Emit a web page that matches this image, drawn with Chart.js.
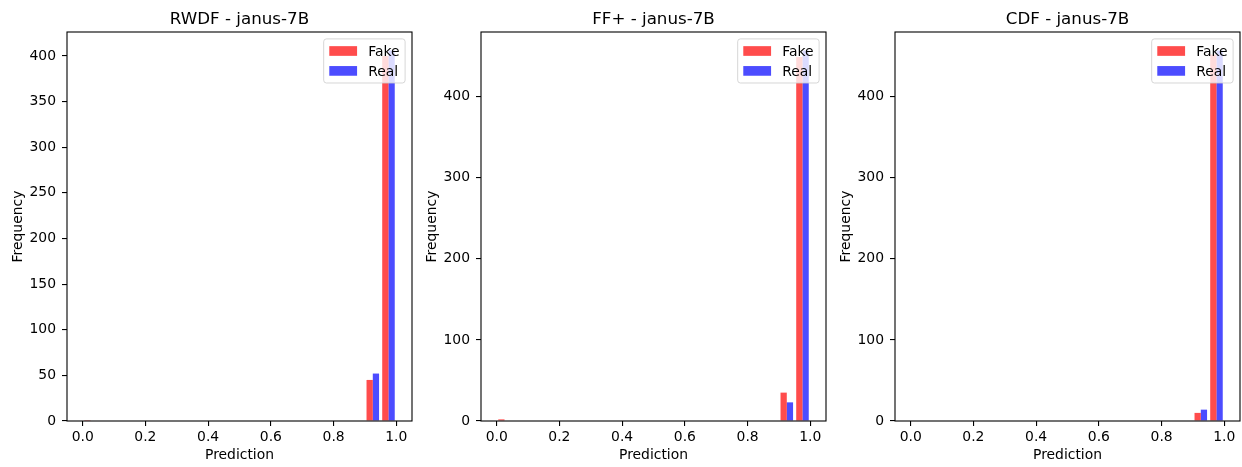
<!DOCTYPE html>
<html>
<head>
<meta charset="utf-8">
<script src="https://cdn.jsdelivr.net/npm/chart.js@4"></script>
<style>
  body { margin: 0; background: #fff; }
  #wrap { position: relative; width: 1242px; height: 467px; overflow: hidden; }
  canvas { position: absolute; top: 0; }
</style>
</head>
<body>
<div id="wrap">
  <canvas id="c1" width="414" height="467" style="left:0px"></canvas>
  <canvas id="c2" width="414" height="467" style="left:414px"></canvas>
  <canvas id="c3" width="414" height="467" style="left:828px"></canvas>
</div>
<script>
// histogram bins (centres of 20 bins of width 0.05)
const binCenters = [0.025, 0.075, 0.125, 0.175, 0.225, 0.275, 0.325, 0.375, 0.425, 0.475,
                    0.525, 0.575, 0.625, 0.675, 0.725, 0.775, 0.825, 0.875, 0.925, 0.975];
const xTicks = [0.0, 0.2, 0.4, 0.6, 0.8, 1.0];

// RWDF - janus-7B
const rwdfFake = [1, 0, 0, 0, 0, 0, 0, 0, 0, 0, 0, 0, 0, 0, 0, 0, 0, 0, 45, 400];
const rwdfReal = [0, 0, 0, 0, 0, 0, 0, 0, 0, 0, 0, 0, 0, 0, 0, 0, 0, 0, 52, 406];
const rwdfTicks = [0, 50, 100, 150, 200, 250, 300, 350, 400];

// FF+ - janus-7B
const ffFake = [2, 0, 0, 0, 0, 0, 0, 0, 0, 0, 0, 0, 0, 0, 0, 0, 0, 0, 35, 449];
const ffReal = [0, 0, 0, 0, 0, 0, 0, 0, 0, 0, 0, 0, 0, 0, 0, 0, 0, 0, 23, 457];
const ffTicks = [0, 100, 200, 300, 400];

// CDF - janus-7B
const cdfFake = [0, 0, 0, 0, 0, 0, 0, 0, 0, 0, 0, 0, 0, 0, 0, 0, 0, 0, 10, 452];
const cdfReal = [0, 0, 0, 0, 0, 0, 0, 0, 0, 0, 0, 0, 0, 0, 0, 0, 0, 0, 14, 457];
const cdfTicks = [0, 100, 200, 300, 400];

const seriesLabels = ['Fake', 'Real'];
const seriesColors = ['rgba(255,0,0,0.7)', 'rgba(0,0,255,0.7)'];

Chart.defaults.font.family = "'DejaVu Sans', sans-serif";
Chart.defaults.color = '#000';

// frame, title and matplotlib-like legend box
const mplDecor = {
  id: 'mplDecor',
  afterDraw(chart, args, opts) {
    const ctx = chart.ctx;
    const a = chart.chartArea;
    ctx.save();
    // spines
    ctx.strokeStyle = '#000';
    ctx.lineWidth = 1.1;
    ctx.strokeRect(a.left, a.top, a.right - a.left, a.bottom - a.top);
    // title
    ctx.fillStyle = '#000';
    ctx.font = "16.7px 'DejaVu Sans'";
    ctx.textAlign = 'center';
    ctx.textBaseline = 'alphabetic';
    ctx.fillText(opts.title, (a.left + a.right) / 2, a.top - 8.3);
    // legend
    const fs = 13.9, pad = 5.6, handleLen = 27.8, handleH = 9.7, textPad = 11.1, rowH = 13, gap = 6.9;
    ctx.font = fs + "px 'DejaVu Sans'";
    const ds = chart.data.datasets;
    const tw = Math.max(...ds.map(d => ctx.measureText(d.label).width));
    const w = pad * 2 + handleLen + textPad + tw;
    const h = pad * 2 + ds.length * rowH + (ds.length - 1) * gap;
    const right = a.right - 6.9, top = a.top + 6.9, left = right - w;
    ctx.beginPath();
    ctx.roundRect(left, top, w, h, 2.8);
    ctx.fillStyle = 'rgba(255,255,255,0.8)';
    ctx.fill();
    ctx.strokeStyle = 'rgba(204,204,204,0.8)';
    ctx.lineWidth = 1;
    ctx.stroke();
    ds.forEach((d, i) => {
      const cy = top + pad + rowH / 2 + i * (rowH + gap);
      ctx.fillStyle = d.backgroundColor;
      ctx.fillRect(left + pad, cy - handleH / 2, handleLen, handleH);
      ctx.fillStyle = '#000';
      ctx.textAlign = 'left';
      ctx.textBaseline = 'middle';
      ctx.fillText(d.label, left + pad + handleLen + textPad, cy + 1);
    });
    ctx.restore();
  }
};

function makeHist(id, title, fake, real, yTicks) {
  const peak = Math.max(...fake, ...real);
  const tickFont = { size: 13.9 };
  return new Chart(document.getElementById(id), {
    type: 'bar',
    data: {
      datasets: [fake, real].map((vals, k) => ({
        label: seriesLabels[k],
        data: binCenters.map((c, i) => ({ x: c, y: vals[i] })),
        backgroundColor: seriesColors[k],
        borderWidth: 0,
        categoryPercentage: 0.8,
        barPercentage: 1.0
      }))
    },
    options: {
      responsive: false,
      animation: false,
      layout: { padding: { top: 32, right: 2, left: 0, bottom: 0 } },
      plugins: {
        legend: { display: false },
        tooltip: { enabled: false },
        mplDecor: { title: title }
      },
      scales: {
        x: {
          type: 'linear',
          offset: false,
          min: -0.05,
          max: 1.05,
          afterBuildTicks: s => { s.ticks = xTicks.map(v => ({ value: v })); },
          afterFit: s => { s.height = 46; },
          ticks: { font: tickFont, padding: 3, maxRotation: 0, callback: v => v.toFixed(1) },
          grid: { offset: false, drawOnChartArea: false, tickLength: 5, color: '#000', lineWidth: 1.1 },
          border: { display: false },
          title: { display: true, text: 'Prediction', font: { size: 13.9 }, padding: { top: 0, bottom: 3 } }
        },
        y: {
          min: 0,
          max: peak * 1.05,
          afterBuildTicks: s => { s.ticks = yTicks.map(v => ({ value: v })); },
          afterFit: s => { s.width = 67; },
          ticks: { font: tickFont, padding: 6 },
          grid: { drawOnChartArea: false, tickLength: 5, color: '#000', lineWidth: 1.1 },
          border: { display: false },
          title: { display: true, text: 'Frequency', font: { size: 13.9 }, padding: { top: 10, bottom: 0 } }
        }
      }
    },
    plugins: [mplDecor]
  });
}

makeHist('c1', 'RWDF - janus-7B', rwdfFake, rwdfReal, rwdfTicks);
makeHist('c2', 'FF+ - janus-7B', ffFake, ffReal, ffTicks);
makeHist('c3', 'CDF - janus-7B', cdfFake, cdfReal, cdfTicks);
</script>
</body>
</html>
